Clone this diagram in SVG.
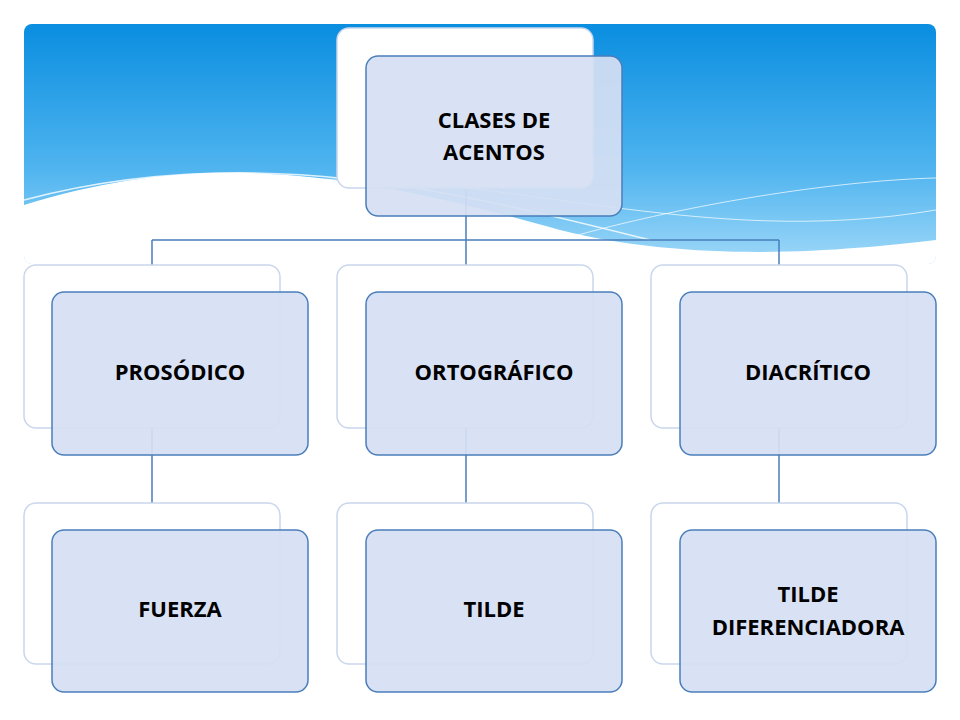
<svg xmlns="http://www.w3.org/2000/svg" width="960" height="720" viewBox="0 0 960 720">
<defs>
<linearGradient id="sky" x1="0" y1="0" x2="0" y2="1">
<stop offset="0" stop-color="#0a8ee0"/>
<stop offset="0.6" stop-color="#4fb4ef"/>
<stop offset="1" stop-color="#9fd8f8"/>
</linearGradient>
<clipPath id="hc"><rect x="24" y="24" width="912" height="240" rx="8"/></clipPath>
<style>
.back{fill:#fff;stroke:#c9d6ec;stroke-width:1.5}
.front{fill:#d6dff3;fill-opacity:0.92;stroke:#4a7ebb;stroke-width:1.5}
.t{font-family:"Open Sans","Liberation Sans",sans-serif;font-weight:bold;font-size:22px;fill:#000;text-anchor:middle}
.c{fill:none;stroke:#4a7ebb;stroke-width:1.5}
</style>
</defs>
<rect width="960" height="720" fill="#fff"/>
<g clip-path="url(#hc)">
<rect x="24" y="24" width="912" height="240" fill="url(#sky)"/>
<path d="M24 205 C200 150 350 170 560 230 C700 265 850 250 936 240 L936 264 L24 264 Z" fill="#fff"/>
<path d="M24 200 C250 140 450 190 650 240" fill="none" stroke="#fff" stroke-width="1.5" opacity="0.8"/>
<path d="M300 180 C500 170 700 250 936 210" fill="none" stroke="#fff" stroke-width="1" opacity="0.7"/>
<path d="M560 240 C700 200 850 180 936 178" fill="none" stroke="#fff" stroke-width="1" opacity="0.7"/>
</g>
<g id="connectors">
<path class="c" d="M466 188V240M152 240H779M152 240V265M466 240V265M779 240V265M152 428V503M466 428V503M779 428V503"/>
</g>
<g id="n-root"><rect class="back" x="337" y="28" width="256" height="160" rx="12"/><rect class="front" x="366" y="56" width="256" height="160" rx="12"/><text class="t" x="494" y="128">CLASES DE</text><text class="t" x="494" y="160">ACENTOS</text></g>
<g id="n-pros"><rect class="back" x="24" y="265" width="256" height="163" rx="12"/><rect class="front" x="52" y="292" width="256" height="163" rx="12"/><text class="t" x="180" y="380">PROSÓDICO</text></g>
<g id="n-orto"><rect class="back" x="337" y="265" width="256" height="163" rx="12"/><rect class="front" x="366" y="292" width="256" height="163" rx="12"/><text class="t" x="494" y="380">ORTOGRÁFICO</text></g>
<g id="n-diac"><rect class="back" x="651" y="265" width="256" height="163" rx="12"/><rect class="front" x="680" y="292" width="256" height="163" rx="12"/><text class="t" x="808" y="380">DIACRÍTICO</text></g>
<g id="n-fuerza"><rect class="back" x="24" y="503" width="256" height="161" rx="12"/><rect class="front" x="52" y="530" width="256" height="162" rx="12"/><text class="t" x="180" y="617">FUERZA</text></g>
<g id="n-tilde"><rect class="back" x="337" y="503" width="256" height="161" rx="12"/><rect class="front" x="366" y="530" width="256" height="162" rx="12"/><text class="t" x="494" y="617">TILDE</text></g>
<g id="n-tdif"><rect class="back" x="651" y="503" width="256" height="161" rx="12"/><rect class="front" x="680" y="530" width="256" height="162" rx="12"/><text class="t" x="808" y="602">TILDE</text><text class="t" x="808" y="635">DIFERENCIADORA</text></g>
</svg>
